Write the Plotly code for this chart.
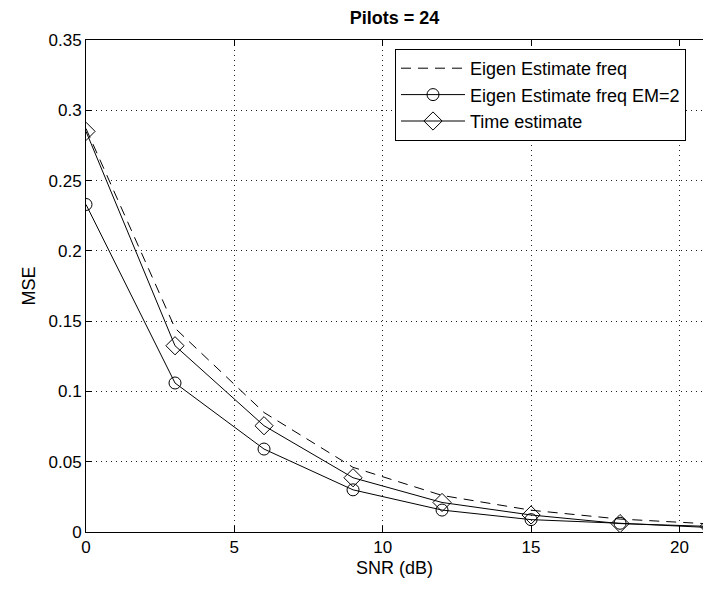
import plotly.graph_objects as go

snr = [0, 3, 6, 9, 12, 15, 18, 21]
eigen_freq = [0.287, 0.145, 0.085, 0.046, 0.026, 0.0155, 0.0092, 0.0058]
eigen_freq_em2 = [0.233, 0.106, 0.059, 0.030, 0.0156, 0.0088, 0.0062, 0.0032]
time_est = [0.285, 0.1325, 0.0756, 0.0386, 0.021, 0.0121, 0.0060, 0.0040]

xticks = [0, 5, 10, 15, 20]
yticks = [0, 0.05, 0.1, 0.15, 0.2, 0.25, 0.3, 0.35]
yticktext = ["0", "0.05", "0.1", "0.15", "0.2", "0.25", "0.3", "0.35"]

FONT = "Liberation Sans, Arial, Helvetica, sans-serif"

fig = go.Figure()
fig.add_trace(go.Scatter(
    x=snr, y=eigen_freq, mode="lines", name="Eigen Estimate freq",
    line=dict(color="black", width=1, dash="10px,7px")))
fig.add_trace(go.Scatter(
    x=snr, y=eigen_freq_em2, mode="lines+markers", name="Eigen Estimate freq EM=2",
    line=dict(color="black", width=1),
    marker=dict(symbol="circle-open", size=12, color="black", line=dict(width=1, color="black"))))
fig.add_trace(go.Scatter(
    x=snr, y=time_est, mode="lines+markers", name="Time estimate",
    line=dict(color="black", width=1),
    marker=dict(symbol="diamond-open", size=14, color="black", line=dict(width=1, color="black"))))

fig.update_layout(
    width=703, height=590,
    margin=dict(l=86, r=0, t=40, b=58),
    paper_bgcolor="white", plot_bgcolor="white",
    font=dict(family=FONT, size=17, color="black"),
    title=dict(text="<b>Pilots = 24</b>", x=0.5, xref="paper", xanchor="center",
               y=1 - 18 / 590, yref="container", yanchor="middle",
               font=dict(family=FONT, size=18, color="black")),
    showlegend=True,
    legend=dict(x=(395 - 86) / 617, y=(532 - 49) / 492, xanchor="left", yanchor="top",
                bordercolor="black", borderwidth=1, bgcolor="white",
                font=dict(family=FONT, size=18, color="black"),
                tracegroupgap=0, itemwidth=64),
)
fig.update_xaxes(
    range=[0, 617 / 29.67], tickvals=xticks, ticktext=[str(v) for v in xticks],
    showline=True, linecolor="black", linewidth=1, mirror="ticks",
    ticks="inside", ticklen=6, tickcolor="black",
    showgrid=True, gridcolor="#222", gridwidth=1, griddash="1px,4px",
    zeroline=False,
    title=dict(text="SNR (dB)", font=dict(family=FONT, size=18), standoff=4),
)
fig.update_yaxes(
    range=[0, 0.35], tickvals=yticks, ticktext=yticktext,
    showline=True, linecolor="black", linewidth=1, mirror=False,
    ticks="inside", ticklen=6, tickcolor="black",
    showgrid=True, gridcolor="#222", gridwidth=1, griddash="1px,4px",
    zeroline=False,
    title=dict(text="MSE", font=dict(family=FONT, size=18), standoff=8),
)

fig.write_html("out.html")
